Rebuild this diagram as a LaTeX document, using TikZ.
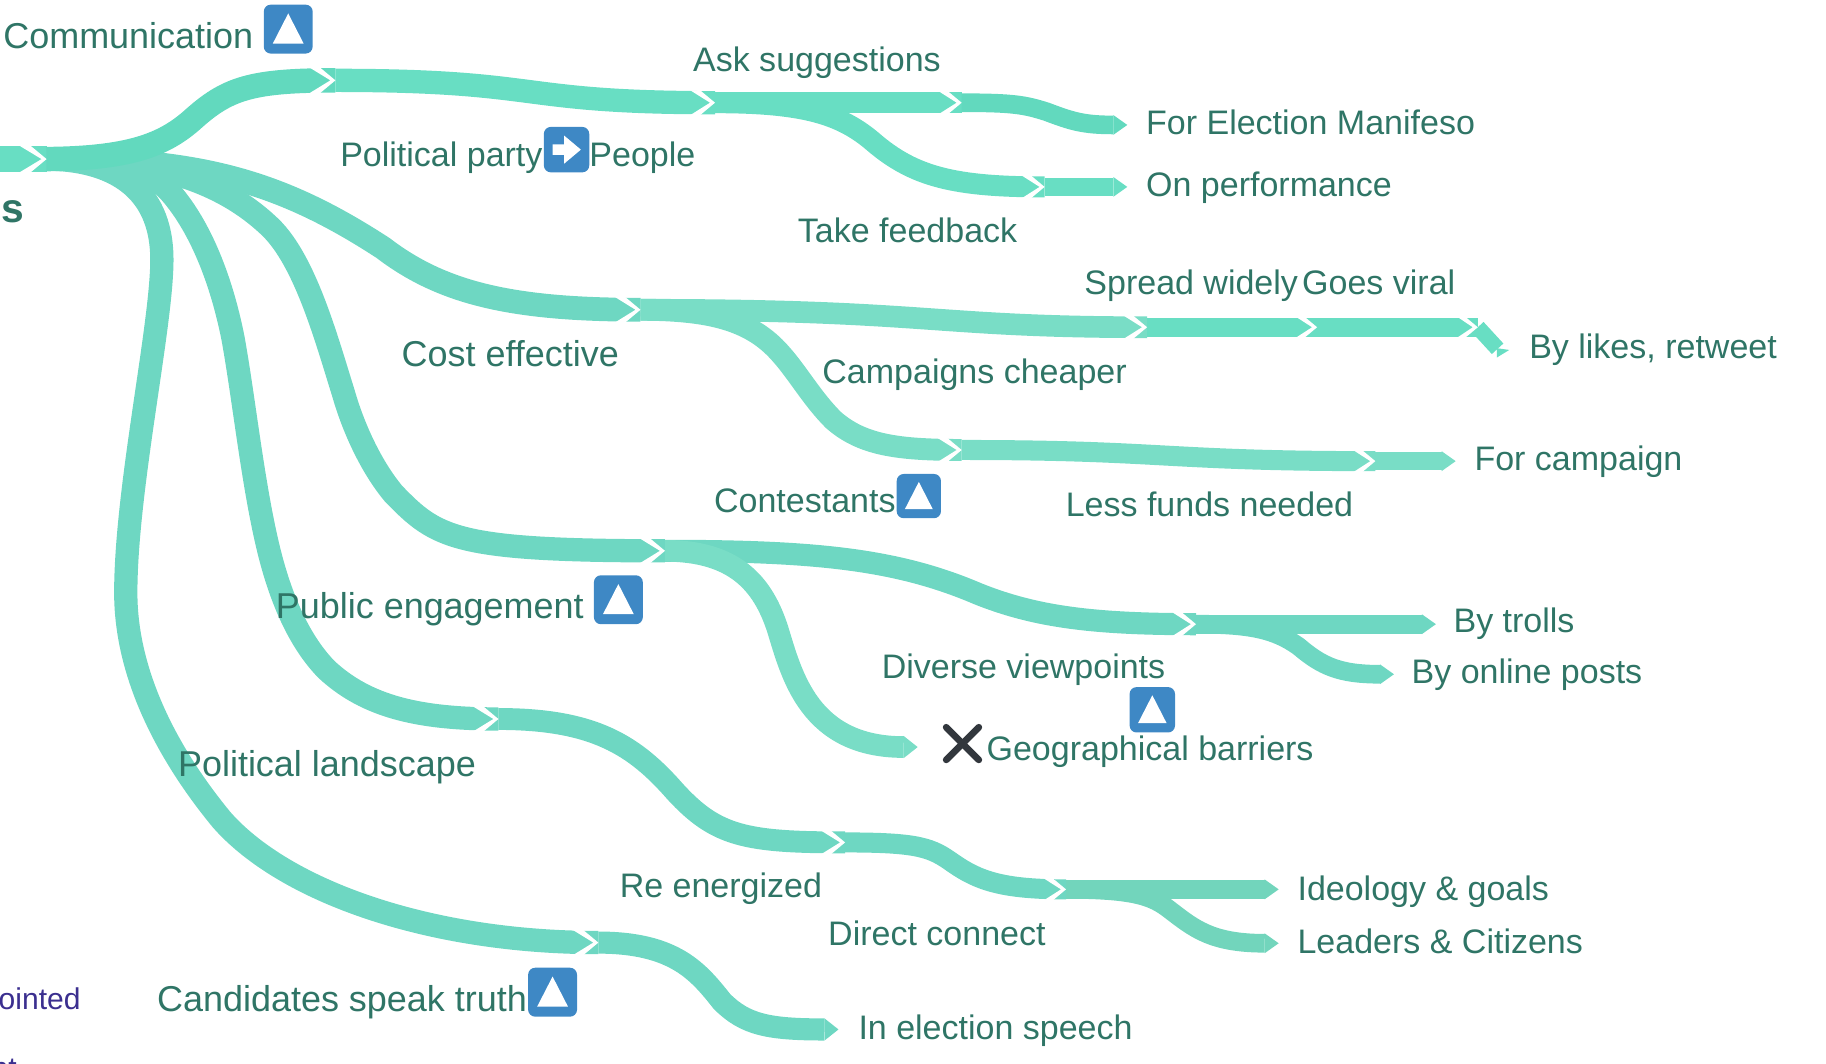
\documentclass[tikz,border=0pt]{standalone}
\usepackage{fontspec}
\setmainfont{Liberation Sans}
\usepackage{xcolor}
\definecolor{brA}{HTML}{62D9BE}
\definecolor{brB}{HTML}{68DEC3}
\definecolor{brC}{HTML}{6ED7C2}
\definecolor{brD}{HTML}{79DDC6}
\definecolor{brE}{HTML}{72D5BC}
\definecolor{txtgreen}{HTML}{2F7566}
\definecolor{iconblue}{HTML}{3E88C5}
\definecolor{markgrey}{HTML}{32373D}
\definecolor{legendblue}{HTML}{3B2F8F}
\tikzset{
  ribbon/.style={line width=#1, line cap=butt},
  lblmain/.style={anchor=base west, inner sep=0pt, xshift=-0.25pt, yshift=-0.25pt, text=txtgreen, font=\fontsize{15.44}{18}\selectfont},
  lblsub/.style={anchor=base west, inner sep=0pt, xshift=-0.1pt, yshift=-0.25pt, text=txtgreen, font=\fontsize{14.6}{17}\selectfont},
  lbllegend/.style={anchor=base west, inner sep=0pt, text=legendblue, font=\fontsize{12.9}{15}\selectfont},
  iconbox/.style={fill=iconblue, rounded corners=3pt, inner sep=0pt, minimum size=#1}
}
\begin{document}
\begin{tikzpicture}[x=0.5pt,y=-0.5pt]
  \useasboundingbox (0,0) rectangle (1568,913.6);
  \clip (0,0) rectangle (1568,913.6);

  % joints where one branch hands over to the next
  \coordinate (jRoot) at (40,136.6);
  \coordinate (jComm) at (288,69);
  \coordinate (jAsk) at (614,88.2);
  \coordinate (jSugg) at (825.8,88.2);
  \coordinate (jFeed) at (897,160.5);
  \coordinate (jCost) at (550,266);
  \coordinate (jSpread) at (985,281);
  \coordinate (jViral) at (1131,281);
  \coordinate (jLikes) at (1269,281);
  \coordinate (jCheap) at (825.8,386.4);
  \coordinate (jFunds) at (1181,396);
  \coordinate (jCont) at (571,473);
  \coordinate (jDiverse) at (1027,536);
  \coordinate (jPub) at (428,617.4);
  \coordinate (jRe) at (725.7,723.4);
  \coordinate (jDirect) at (915.4,763.7);
  \coordinate (jTruth) at (513.8,809.4);

  % free ends, just before the point of the tip
  \coordinate (tManifeso) at (956,107.3);
  \coordinate (tPerf) at (956,160.5);
  \coordinate (tLikes) at (1286,299.5);
  \coordinate (tCamp) at (1238,396);
  \coordinate (tTrolls) at (1221,536);
  \coordinate (tOnline) at (1185,579);
  \coordinate (tGeo) at (776,641.5);
  \coordinate (tIdeo) at (1086,763.7);
  \coordinate (tLeaders) at (1086,810);
  \coordinate (tSpeech) at (708,884);
  \coordinate (rootIn) at (-5,136.6);

  % branches
  \draw[ribbon=11.5pt, brB] (rootIn) -- (jRoot);
  \draw[ribbon=10pt, brC] (jRoot) .. controls (95,137) and (139,160) .. (139,223)
    .. controls (139,280) and (108,420) .. (108,509)
    .. controls (108,585) and (150,655) .. (190.4,704)
    .. controls (245,766) and (370,809.4) .. (jTruth);
  \draw[ribbon=10pt, brC] (jRoot) .. controls (85,136) and (125,140) .. (147,166)
    .. controls (172,195) and (190,240) .. (200,290)
    .. controls (210,345) and (218,425) .. (233,481)
    .. controls (243,518) and (258,552) .. (280.5,575)
    .. controls (315,607) and (360,617.4) .. (jPub);
  \draw[ribbon=10pt, brC] (jRoot) .. controls (120,136) and (185,150) .. (232,195)
    .. controls (262,224) and (280,290) .. (295,338)
    .. controls (303,366) and (318,400) .. (338,424)
    .. controls (375,462) and (390,473) .. (jCont);
  \draw[ribbon=10.2pt, brC] (jRoot) .. controls (170,136) and (240,155) .. (329,213)
    .. controls (380,252) and (440,266) .. (jCost);
  \draw[ribbon=10.5pt, brA] (jRoot) .. controls (110,136) and (140,125) .. (165,103)
    .. controls (195,76) and (215,69) .. (jComm);

  \draw[ribbon=10pt, brB] (jComm) .. controls (470,69) and (440,88.2) .. (jAsk);
  \draw[ribbon=9pt, brB] (jAsk) -- (jSugg);
  \draw[ribbon=9pt, brB] (jAsk) .. controls (690,88.2) and (722,98) .. (750,122)
    .. controls (785,152) and (820,160.5) .. (jFeed);
  \draw[ribbon=8pt, brA] (jSugg) .. controls (870,88.2) and (880,90) .. (898.8,96)
    .. controls (920,104) and (930,107.3) .. (tManifeso);
  \draw[ribbon=8pt, brB] (jFeed) -- (tPerf);

  \draw[ribbon=9.3pt, brD] (jCost) .. controls (800,266) and (800,281) .. (jSpread);
  \draw[ribbon=8pt, brB] (jSpread) -- (jViral);
  \draw[ribbon=8pt, brB] (jViral) -- (jLikes);
  \draw[ribbon=6.7pt, brB] (jLikes) -- (tLikes);
  \draw[ribbon=9.4pt, brD] (jCost) .. controls (610,266) and (645,275) .. (670,303.4)
    .. controls (685,320) and (697,342) .. (715.6,360.6)
    .. controls (740,382) and (770,386.4) .. (jCheap);
  \draw[ribbon=8.6pt, brD] (jCheap) .. controls (1000,386.4) and (1000,396) .. (jFunds);
  \draw[ribbon=8pt, brD] (jFunds) -- (tCamp);

  \draw[ribbon=9.5pt, brC] (jCont) .. controls (700,473) and (770,480) .. (840,510)
    .. controls (890,530) and (940,536) .. (jDiverse);
  \draw[ribbon=9.3pt, brD] (jCont) .. controls (630,473) and (655,500) .. (668,541)
    .. controls (680,580) and (695,641.5) .. (tGeo);
  \draw[ribbon=8pt, brC] (jDiverse) -- (tTrolls);
  \draw[ribbon=8pt, brC] (jDiverse) .. controls (1075,536) and (1095,541) .. (1115,555)
    .. controls (1135,572) and (1150,579) .. (tOnline);

  \draw[ribbon=9.4pt, brC] (jPub) .. controls (510,617.4) and (545,640) .. (580,680)
    .. controls (615,718) and (640,723.4) .. (jRe);
  \draw[ribbon=8.6pt, brC] (jRe) .. controls (790,723.4) and (800,728) .. (818.7,741.4)
    .. controls (840,756) and (860,763.7) .. (jDirect);
  \draw[ribbon=8.2pt, brE] (jDirect) -- (tIdeo);
  \draw[ribbon=8pt, brE] (jDirect) .. controls (975,763.7) and (990,770) .. (1004.7,781.5)
    .. controls (1025,797) and (1040,810) .. (tLeaders);

  \draw[ribbon=9.5pt, brC] (jTruth) .. controls (580,809.4) and (600,835) .. (620,860)
    .. controls (640,880) and (660,884) .. (tSpeech);

  % pointed ends
  \foreach \tp/\h/\cc in {tManifeso/8.5/brA,tPerf/8.5/brB,tCamp/8.5/brD,tTrolls/8.5/brC,tOnline/8.5/brC,
      tGeo/9.5/brD,tIdeo/8.5/brE,tLeaders/8.5/brE,tSpeech/9.5/brC}
    \fill[\cc] ([shift={(0,-\h)}]\tp) -- ([shift={(12,0)}]\tp) -- ([shift={(0,\h)}]\tp) -- cycle;
  \fill[brB] (1285.4,307) -- (1296,300.5) -- (1285.4,299) -- cycle;

  % white cuts at the joints
  \foreach \j/\h in {jRoot/12.5,jComm/11.5,jAsk/10.5,jSugg/10,jFeed/10,jCost/11,jSpread/10.5,jViral/9.5,
      jLikes/8.5,jCheap/10.5,jFunds/9.5,jCont/11.5,jDiverse/10,jPub/11.5,jRe/11,jDirect/10,jTruth/11.5}
    \fill[white] (\j) -- ([shift={(-1.2*\h,-\h)}]\j) -- ([shift={(-2*\h,-\h)}]\j) -- ([shift={(-4.3,0)}]\j)
      -- ([shift={(-2*\h,\h)}]\j) -- ([shift={(-1.2*\h,\h)}]\j) -- cycle;

  % icons with the up triangle
  \foreach \ic/\x/\y/\s in {icoComm/247.5/25/21,icoCont/789/426/19,icoPub/531/515/21,
      icoDiverse/989.5/609.5/19.5,icoTruth/474.5/852/21} {
    \node[iconbox=\s pt] (\ic) at (\x,\y) {};
    \fill[white] ([shift={(0,-0.64*\s)}]\ic.center) -- ([shift={(0.63*\s,0.59*\s)}]\ic.center)
      -- ([shift={(-0.63*\s,0.59*\s)}]\ic.center) -- cycle;
  }
  \node[iconbox=19.5pt] (icoParty) at (486.5,128.5) {};
  \fill[white] ([shift={(-12,-4.6)}]icoParty.center) -- ++(10,0) -- ++(0,-7.4) -- ([shift={(12.3,0)}]icoParty.center)
    -- ([shift={(-2,12)}]icoParty.center) -- ++(0,-7.4) -- ++(-10,0) -- cycle;

  % cross
  \coordinate (crossMark) at (826.5,638.5);
  \draw[markgrey, line width=2.9pt, line cap=round] ([shift={(-14,-14)}]crossMark) -- ([shift={(14,14)}]crossMark);
  \draw[markgrey, line width=2.9pt, line cap=round] ([shift={(-14,14)}]crossMark) -- ([shift={(14,-14)}]crossMark);

  % labels
  \node[lblmain] (lComm) at (3,41.5) {Communication};
  \node[lblmain] (lCost) at (345,314.5) {Cost effective};
  \node[lblmain] (lPub) at (237,531) {Public engagement};
  \node[lblmain] (lLand) at (153,666.5) {Political landscape};
  \node[lblmain] (lTruth) at (135,868.5) {Candidates speak truth};
  \node[lblsub] (lAsk) at (595,60.5) {Ask suggestions};
  \node[lblsub] (lManifeso) at (984,115) {For Election Manifeso};
  \node[lblsub] (lPerf) at (984,168) {On performance};
  \node[lblsub] (lParty) at (292,142.5) {Political party};
  \node[lblsub] (lPeople) at (506,142.5) {People};
  \node[lblsub] (lFeed) at (685,208) {Take feedback};
  \node[lblsub] (lSpread) at (931,252.5) {Spread widely};
  \node[lblsub] (lViral) at (1118,252.5) {Goes viral};
  \node[lblsub] (lCheap) at (706,328.5) {Campaigns cheaper};
  \node[lblsub] (lLikes) at (1313,307.5) {By likes, retweet};
  \node[lblsub] (lCamp) at (1266,403.5) {For campaign};
  \node[lblsub] (lCont) at (613,439.5) {Contestants};
  \node[lblsub] (lFunds) at (915,443) {Less funds needed};
  \node[lblsub] (lTrolls) at (1248,543) {By trolls};
  \node[lblsub] (lOnline) at (1212,586) {By online posts};
  \node[lblsub] (lDiverse) at (757,582) {Diverse viewpoints};
  \node[lblsub] (lGeo) at (847,652.5) {Geographical barriers};
  \node[lblsub] (lRe) at (532,770.5) {Re energized};
  \node[lblsub] (lDirect) at (711,811.5) {Direct connect};
  \node[lblsub] (lIdeo) at (1114,772.5) {Ideology \& goals};
  \node[lblsub] (lLeaders) at (1114,818.5) {Leaders \& Citizens};
  \node[lblsub] (lSpeech) at (737,892.5) {In election speech};
  \node[lbllegend] (lLegA) at (-1.5,867) {ointed};
  \node[lbllegend] (lLegB) at (-7.5,926) {nt};
  \node[anchor=base west, inner sep=0pt, text=txtgreen, font=\fontsize{17.5}{20}\bfseries\selectfont] (lRoot) at (1,191) {s};
\end{tikzpicture}
\end{document}
